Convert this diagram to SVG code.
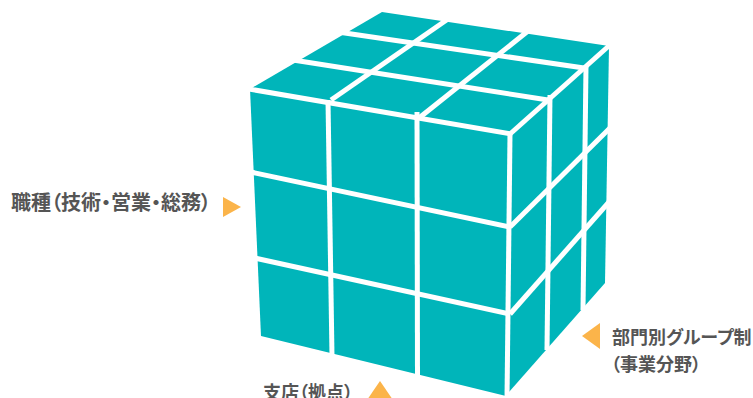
<svg xmlns="http://www.w3.org/2000/svg" width="753" height="398" viewBox="0 0 753 398">
  <style>
    .face { fill: #00B5BA; }
    .gap { stroke: #FFFFFF; stroke-width: 5; fill: none; stroke-linecap: butt; }
    .mark { fill: #FBB44A; }
    .label { font-family: "Noto Sans CJK JP", "Noto Sans", sans-serif; font-weight: 700; fill: #555555; font-feature-settings: "palt"; }
  </style>

  <!-- 3x3x3 cube -->
  <g id="cube">
    <polygon id="face-top" class="face" points="382,12 609,46 510,133 250,89"/>
    <polygon id="face-front" class="face" points="250,89 510,133 506,396 261,336"/>
    <polygon id="face-right" class="face" points="510,133 609,46 605,283 509,392"/>

    <g id="cube-gaps" class="gap">
      <!-- edges between faces -->
      <line x1="246" y1="88.5" x2="511" y2="134"/>
      <line x1="510" y1="134" x2="507" y2="399"/>
      <line x1="510" y1="134" x2="611" y2="44"/>
      <!-- top face -->
      <line x1="338" y1="32" x2="584" y2="68"/>
      <line x1="293" y1="60" x2="548" y2="100"/>
      <line x1="448" y1="19" x2="331" y2="100"/>
      <line x1="528" y1="31" x2="419" y2="118"/>
      <!-- front face -->
      <line x1="246" y1="171" x2="510" y2="227"/>
      <line x1="250" y1="257" x2="510" y2="314"/>
      <line x1="328" y1="100" x2="332" y2="356"/>
      <line x1="417" y1="112" x2="417.5" y2="380"/>
      <!-- right face -->
      <line x1="510" y1="227" x2="612" y2="126"/>
      <line x1="510" y1="314" x2="609" y2="202"/>
      <line x1="550" y1="95" x2="547" y2="350"/>
      <line x1="586" y1="66" x2="583" y2="310"/>
    </g>
  </g>

  <!-- axis labels -->
  <g id="label-job">
    <text class="label" x="11" y="210" font-size="20">職種（技術・営業・総務）</text>
    <polygon class="mark" points="223,197 241,207 223,217"/>
  </g>

  <g id="label-division">
    <polygon class="mark" points="600,323 582,336 600,349"/>
    <text class="label" x="612" y="344" font-size="18">部門別グループ制</text>
    <text class="label" x="611" y="371" font-size="18">（事業分野）</text>
  </g>

  <g id="label-branch">
    <text class="label" x="263" y="399" font-size="18">支店（拠点）</text>
    <polygon class="mark" points="380,381 367,400 393,400"/>
  </g>
</svg>
